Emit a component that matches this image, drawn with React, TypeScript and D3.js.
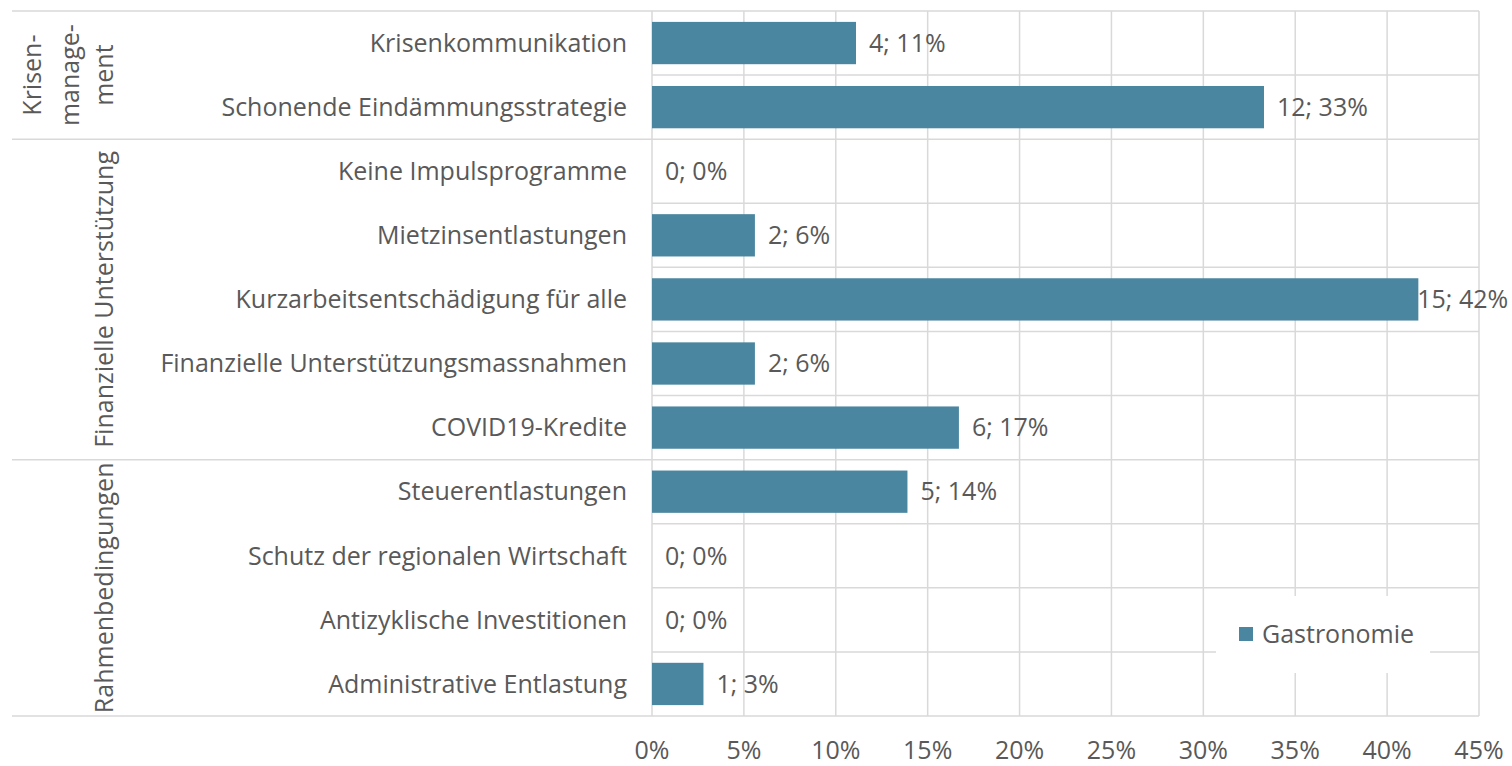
import React from "react";
import * as d3 from "d3";

const categories = [
  "Krisenkommunikation",
  "Schonende Eindämmungsstrategie",
  "Keine Impulsprogramme",
  "Mietzinsentlastungen",
  "Kurzarbeitsentschädigung für alle",
  "Finanzielle Unterstützungsmassnahmen",
  "COVID19-Kredite",
  "Steuerentlastungen",
  "Schutz der regionalen Wirtschaft",
  "Antizyklische Investitionen",
  "Administrative Entlastung",
];
const counts = [4, 12, 0, 2, 15, 2, 6, 5, 0, 0, 1];
const percents = [11.1, 33.3, 0, 5.6, 41.7, 5.6, 16.7, 13.9, 0, 0, 2.8];
const groups = [
  { lines: ["Krisen-", "manage-", "ment"], from: 0, to: 1 },
  { lines: ["Finanzielle Unterstützung"], from: 2, to: 6 },
  { lines: ["Rahmenbedingungen"], from: 7, to: 10 },
];
const xTicks = [0, 5, 10, 15, 20, 25, 30, 35, 40, 45];
const seriesName = "Gastronomie";

const W = 1512;
const H = 766;
const left = 652;
const right = 1479;
const top = 11;
const bottom = 716;
const FONT = "'Open Sans', 'Noto Sans', sans-serif";
const FS = 25;
const TEXT = "#595959";
const GRID = "#d9d9d9";
const BAR = "#4a86a0";

export default function App() {
  const x = d3.scaleLinear().domain([0, 45]).range([left, right]);
  const y = d3.scaleBand<string>().domain(categories).range([top, bottom]).paddingInner(0.34).paddingOuter(0.17);
  const step = (bottom - top) / categories.length;
  const rowTop = (i: number) => top + i * step;

  const labelW = (s: string) => s.length * FS * 0.53;

  return (
    <svg width={W} height={H} style={{ position: "absolute", left: 0, top: 0, fontFamily: FONT }}>
      <rect width={W} height={H} fill="#fff" />
      {/* vertical gridlines */}
      {xTicks.map((t) => (
        <line key={"v" + t} x1={x(t)} x2={x(t)} y1={top} y2={bottom} stroke={GRID} strokeWidth={1.5} />
      ))}
      {/* row separator lines within plot */}
      {d3.range(categories.length + 1).map((i) => (
        <line key={"h" + i} x1={left} x2={right} y1={rowTop(i)} y2={rowTop(i)} stroke={GRID} strokeWidth={1.5} />
      ))}
      {/* group separators extending left */}
      {[0, ...groups.map((g) => g.to + 1)].map((i) => (
        <line key={"g" + i} x1={12} x2={left} y1={rowTop(i)} y2={rowTop(i)} stroke={GRID} strokeWidth={1.5} />
      ))}
      {/* bars */}
      {categories.map((c, i) => (
        <rect key={"b" + c} x={x(0)} y={y(c)!} width={x(percents[i]) - x(0)} height={y.bandwidth()} fill={BAR} />
      ))}
      {/* data labels */}
      {categories.map((c, i) => {
        const txt = `${counts[i]}; ${Math.round(percents[i])}%`;
        let lx = x(percents[i]) + 13;
        const w = labelW(txt);
        if (lx + w > W - 2) lx = W - 2 - w;
        return (
          <text key={"l" + c} x={lx} y={y(c)! + y.bandwidth() / 2} dy="0.35em" fontSize={FS} fill={TEXT}>
            {txt}
          </text>
        );
      })}
      {/* category labels */}
      {categories.map((c) => (
        <text key={"c" + c} x={627} y={y(c)! + y.bandwidth() / 2} dy="0.35em" fontSize={FS} fill={TEXT} textAnchor="end">
          {c}
        </text>
      ))}
      {/* group labels */}
      {groups.map((g, gi) => {
        const cy = (rowTop(g.from) + rowTop(g.to + 1)) / 2;
        if (g.lines.length > 1) {
          const xs = [32, 70, 104];
          return g.lines.map((ln, k) => (
            <text key={"gl" + gi + k} transform={`translate(${xs[k]},${cy}) rotate(-90)`} dy="0.35em" fontSize={FS} fill={TEXT} textAnchor="middle">
              {ln}
            </text>
          ));
        }
        return (
          <text key={"gl" + gi} transform={`translate(104,${cy}) rotate(-90)`} dy="0.35em" fontSize={FS} fill={TEXT} textAnchor="middle">
            {g.lines[0]}
          </text>
        );
      })}
      {/* x tick labels */}
      {xTicks.map((t) => (
        <text key={"t" + t} x={x(t)} y={750} dy="0.35em" fontSize={FS} fill={TEXT} textAnchor="middle">
          {t}%
        </text>
      ))}
      {/* legend */}
      <rect x={1216} y={596} width={214} height={77} fill="#fff" />
      <rect x={1239} y={627} width={14} height={14} fill={BAR} />
      <text x={1262} y={634} dy="0.35em" fontSize={FS} fill={TEXT}>
        {seriesName}
      </text>
    </svg>
  );
}
